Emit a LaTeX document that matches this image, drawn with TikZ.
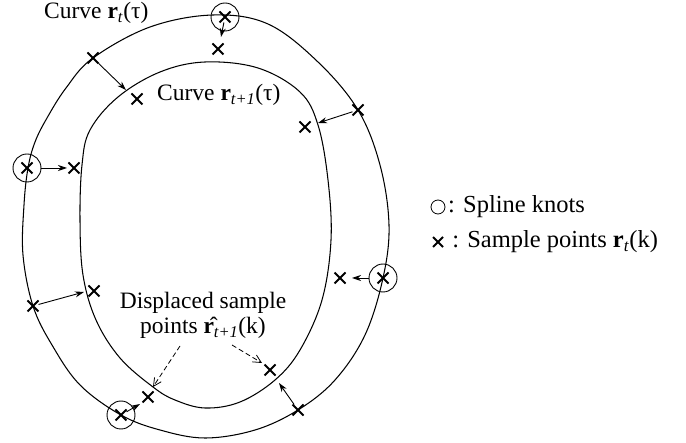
\documentclass[tikz,border=0pt]{standalone}
\usepackage{fontspec}
\setmainfont{Liberation Serif}
\usetikzlibrary{arrows.meta,shapes.misc}
\begin{document}
\begin{tikzpicture}[x=1pt,y=-1pt,
  curve/.style={line width=1.05pt},
  xm/.style={cross out,draw,line width=2.1pt,minimum size=9pt,inner sep=0pt,outer sep=1pt},
  knot/.style={circle,draw,line width=0.9pt,minimum size=28pt,inner sep=0pt},
  arr/.style={line width=0.9pt,-{Stealth[length=9pt,width=6pt]}},
  darr/.style={line width=0.8pt,dashed,dash pattern=on 5pt off 3pt,-{Straight Barb[length=8pt,width=8pt]}},
  lbl/.style={font=\fontsize{23.5}{25}\selectfont,inner sep=0pt},
  leg/.style={font=\fontsize{24.5}{26}\selectfont,inner sep=0pt}]
\useasboundingbox (0,0) rectangle (686,443);
% outer curve r_t
\draw[curve] plot[smooth cycle,tension=0.6] coordinates {
(213,15) (268,24) (318,62) (358,110) (380,165) (389,225) (383,278) (365,335)
(335,380) (298,410) (255,430) (205,438) (160,430) (121,415) (80,385) (52,345)
(33,306) (23,255) (24,205) (28,168) (35,142) (47,118) (66,88) (93,58) (150,27)};
% inner curve r_{t+1}
\draw[curve] plot[smooth cycle,tension=0.6] coordinates {
(205,62) (258,68) (300,92) (318,125) (328,180) (331,240) (322,300) (300,350)
(275,380) (240,402) (205,408) (175,400) (153,387) (120,358) (96,320) (83,275)
(80,220) (82,165) (90,130) (118,97) (160,72)};
% spline knots
\node[knot] (k1) at (225,17) {};
\node[knot] (k2) at (27,168) {};
\node[knot] (k3) at (383,278) {};
\node[knot] (k4) at (121,415) {};
\node[xm] (k1x) at (225,17) {};
\node[xm] (k2x) at (27,168) {};
\node[xm] (k3x) at (383,278) {};
\node[xm] (k4x) at (121,415) {};
% sample points on r_t
\node[xm] (o1) at (93,58) {};
\node[xm] (o2) at (358,110) {};
\node[xm] (o3) at (33,306) {};
\node[xm] (o4) at (298,410) {};
% displaced points
\node[xm] (d1) at (218,49) {};
\node[xm] (d2) at (137,99) {};
\node[xm] (d3) at (305,127) {};
\node[xm] (d4) at (74,168) {};
\node[xm] (d5) at (94,291) {};
\node[xm] (d6) at (340,278) {};
\node[xm] (d7) at (270,370) {};
\node[xm] (d8) at (148,397) {};
% arrow tips
\coordinate (t1) at (221,37);
\coordinate (t2) at (126,90);
\coordinate (t3) at (318,123);
\coordinate (t4) at (67,168);
\coordinate (t5) at (84,292);
\coordinate (t6) at (352,278);
\coordinate (t7) at (279,383);
\coordinate (t8) at (140,404);
\draw[arr] (k1x) -- (t1);
\draw[arr] (o1) -- (t2);
\draw[arr] (o2) -- (t3);
\draw[arr] (k2) -- (t4);
\draw[arr] (o3) -- (t5);
\draw[arr] (k3) -- (t6);
\draw[arr] (o4) -- (t7);
\draw[arr] (k4x) -- (t8);
% labels
\node[lbl,anchor=west] (c1) at (44,13) {Curve \textbf{r}\textsubscript{\textit{t}}(τ)};
\node[lbl,anchor=west] (c2) at (157,95) {Curve \textbf{r}\textsubscript{\textit{t+1}}(τ)};
\node[lbl] (ds1) at (203,303) {Displaced sample};
\node[lbl] (ds2) at (203,328) {points \^{\textbf{r}}\textsubscript{\textit{t+1}}(k)};
\coordinate (s1) at (180,346);
\coordinate (e1) at (153,387);
\coordinate (s2) at (232,345);
\coordinate (e2) at (262,363);
\draw[darr] (s1) -- (e1);
\draw[darr] (s2) -- (e2);
% legend
\node[circle,draw,line width=0.8pt,minimum width=13pt,minimum height=14pt,inner sep=0pt] (lk) at (438,207) {};
\node[leg,anchor=west] (lkt) at (448,207) {: Spline knots};
\node[xm,minimum size=8pt,line width=1.9pt] (ls) at (438,242) {};
\node[leg,anchor=west] (lst) at (448,242) {\,: Sample points \textbf{r}\textsubscript{\textit{t}}(k)};
\end{tikzpicture}
\end{document}
